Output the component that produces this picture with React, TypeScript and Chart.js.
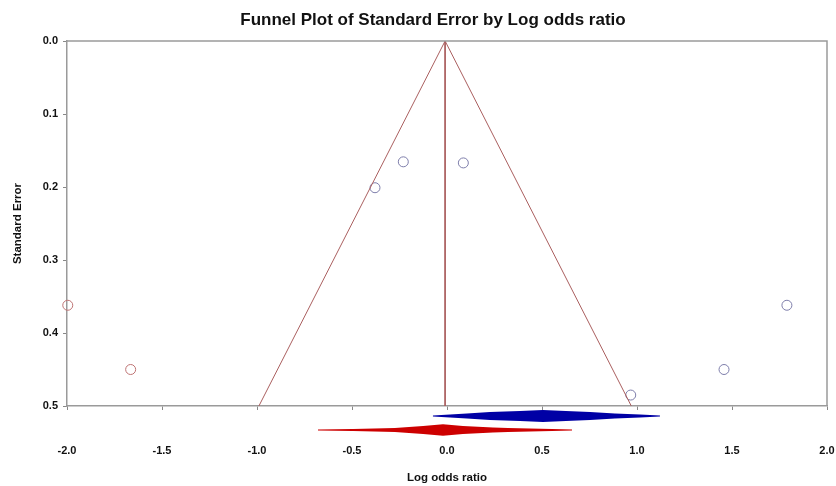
import React, { useEffect, useRef } from 'react';
import { Chart, registerables } from 'chart.js';

Chart.register(...registerables);

// ---- data ----
const chartTitle = 'Funnel Plot of Standard Error by Log odds ratio';
const xAxisTitle = 'Log odds ratio';
const yAxisTitle = 'Standard Error';

const xTickValues = [-2.0, -1.5, -1.0, -0.5, 0.0, 0.5, 1.0, 1.5, 2.0];
const yTickValues = [0.0, 0.1, 0.2, 0.3, 0.4, 0.5];

// observed studies (log odds ratio, standard error)
const observedLogOdds = [-0.379, -0.23, 0.086, 0.967, 1.458, 1.789];
const observedSE = [0.201, 0.1655, 0.167, 0.485, 0.45, 0.362];

// imputed studies (trim and fill)
const imputedLogOdds = [-1.996, -1.665];
const imputedSE = [0.362, 0.45];

// funnel (95% limits) and centre line
const funnelLogOdds = [-0.99, -0.01, 0.97];
const funnelSE = [0.5, 0.0, 0.5];
const centerLogOdds = [-0.01, -0.01];
const centerSE = [0.0, 0.5];

// summary diamonds: x profile (log odds ratio)
const observedDiamondX = [-0.074, 0.016, 0.105, 0.226, 0.384, 0.505, 0.626, 0.753, 0.884, 1.016, 1.121];
const adjustedDiamondX = [-0.679, -0.495, -0.274, -0.126, -0.021, 0.084, 0.242, 0.321, 0.553, 0.658];

// ---- styles ----
const observedDiamondHalf = [0.5, 1.5, 2.5, 4, 5, 6, 5, 4, 2.5, 1.5, 0.5];
const adjustedDiamondHalf = [0.5, 1, 2, 4, 5.7, 4, 2.5, 2, 1, 0.5];
const observedDiamondOffset = 10;
const adjustedDiamondOffset = 24;
const FONT = '"Liberation Sans", Arial, sans-serif';

const toPoints = (xs: number[], ys: number[]) => xs.map((x, i) => ({ x, y: ys[i] }));

const framePlugin = {
  id: 'frameAndExtras',
  afterDatasetsDraw(chart: any) {
    const { ctx, chartArea, scales } = chart;
    const xs = scales.x;
    const ys = scales.y;
    ctx.save();
    // top & right frame
    ctx.strokeStyle = '#9a9a9a';
    ctx.lineWidth = 1.5;
    ctx.beginPath();
    ctx.moveTo(chartArea.left, chartArea.top);
    ctx.lineTo(chartArea.right, chartArea.top);
    ctx.lineTo(chartArea.right, chartArea.bottom);
    ctx.stroke();

    const base = ys.getPixelForValue(yTickValues[yTickValues.length - 1]);
    const drawProfile = (xv: number[], half: number[], cy: number, color: string) => {
      ctx.beginPath();
      xv.forEach((v, i) => {
        const px = xs.getPixelForValue(v);
        if (i === 0) ctx.moveTo(px, cy - half[i]);
        else ctx.lineTo(px, cy - half[i]);
      });
      for (let i = xv.length - 1; i >= 0; i--) {
        ctx.lineTo(xs.getPixelForValue(xv[i]), cy + half[i]);
      }
      ctx.closePath();
      ctx.fillStyle = color;
      ctx.fill();
    };
    drawProfile(observedDiamondX, observedDiamondHalf, base + observedDiamondOffset, 'rgb(0,0,165)');
    drawProfile(adjustedDiamondX, adjustedDiamondHalf, base + adjustedDiamondOffset, 'rgb(205,0,0)');

    // main title
    ctx.fillStyle = '#111';
    ctx.font = `bold 17px ${FONT}`;
    ctx.textAlign = 'center';
    ctx.textBaseline = 'middle';
    ctx.fillText(chartTitle, (chartArea.left + chartArea.right) / 2 - 14, 20);
    ctx.restore();
  },
};

export default function App() {
  const ref = useRef<HTMLCanvasElement | null>(null);

  useEffect(() => {
    document.body.style.margin = '0';
    if (!ref.current) return;
    const lineColor = 'rgb(170,95,95)';
    const chart = new Chart(ref.current, {
      type: 'scatter',
      data: {
        datasets: [
          {
            data: toPoints(funnelLogOdds, funnelSE),
            showLine: true,
            borderColor: lineColor,
            borderWidth: 1,
            pointRadius: 0,
            fill: false,
          },
          {
            data: toPoints(centerLogOdds, centerSE),
            showLine: true,
            borderColor: lineColor,
            borderWidth: 1,
            pointRadius: 0,
            fill: false,
          },
          {
            data: toPoints(observedLogOdds, observedSE),
            showLine: false,
            pointRadius: 5,
            pointBorderWidth: 1,
            pointBorderColor: 'rgb(125,125,170)',
            pointBackgroundColor: 'rgba(0,0,0,0)',
            clip: false,
          },
          {
            data: toPoints(imputedLogOdds, imputedSE),
            showLine: false,
            pointRadius: 5,
            pointBorderWidth: 1,
            pointBorderColor: 'rgb(190,115,115)',
            pointBackgroundColor: 'rgba(0,0,0,0)',
            clip: false,
          },
        ],
      } as any,
      options: {
        responsive: false,
        animation: false,
        layout: { padding: { top: 41, right: 9, bottom: 0, left: 0 } },
        plugins: {
          legend: { display: false },
          title: { display: false },
          tooltip: { enabled: false },
        },
        scales: {
          x: {
            type: 'linear',
            min: -2,
            max: 2,
            afterBuildTicks: (s: any) => {
              s.ticks = xTickValues.map((v) => ({ value: v }));
            },
            afterFit: (s: any) => {
              s.height = 80;
              s.paddingLeft = 0;
              s.paddingRight = 0;
            },
            ticks: {
              padding: 34,
              color: '#111',
              font: { family: FONT, size: 11, weight: 'bold' },
              callback: (v: any) => Number(v).toFixed(1),
            },
            grid: { display: true, drawOnChartArea: false, drawTicks: true, tickLength: 4, color: '#888' },
            border: { display: true, color: '#9a9a9a', width: 1.5 },
            title: {
              display: true,
              text: xAxisTitle,
              color: '#111',
              font: { family: FONT, size: 11.5, weight: 'bold' },
              padding: { top: 0, bottom: 1 },
            },
          },
          y: {
            type: 'linear',
            reverse: true,
            min: 0,
            max: 0.5,
            afterBuildTicks: (s: any) => {
              s.ticks = yTickValues.map((v) => ({ value: v }));
            },
            afterFit: (s: any) => {
              s.width = 67;
            },
            ticks: {
              padding: 5,
              color: '#111',
              font: { family: FONT, size: 11, weight: 'bold' },
              callback: (v: any) => Number(v).toFixed(1),
            },
            grid: { display: true, drawOnChartArea: false, drawTicks: true, tickLength: 4, color: '#888' },
            border: { display: true, color: '#9a9a9a', width: 1.5 },
            title: {
              display: true,
              text: yAxisTitle,
              color: '#111',
              font: { family: FONT, size: 11.5, weight: 'bold' },
              padding: { top: 11, bottom: 0 },
            },
          },
        },
      } as any,
      plugins: [framePlugin],
    });
    return () => chart.destroy();
  }, []);

  return (
    <div style={{ width: 836, height: 486 }}>
      <canvas ref={ref} width={836} height={486} />
    </div>
  );
}
